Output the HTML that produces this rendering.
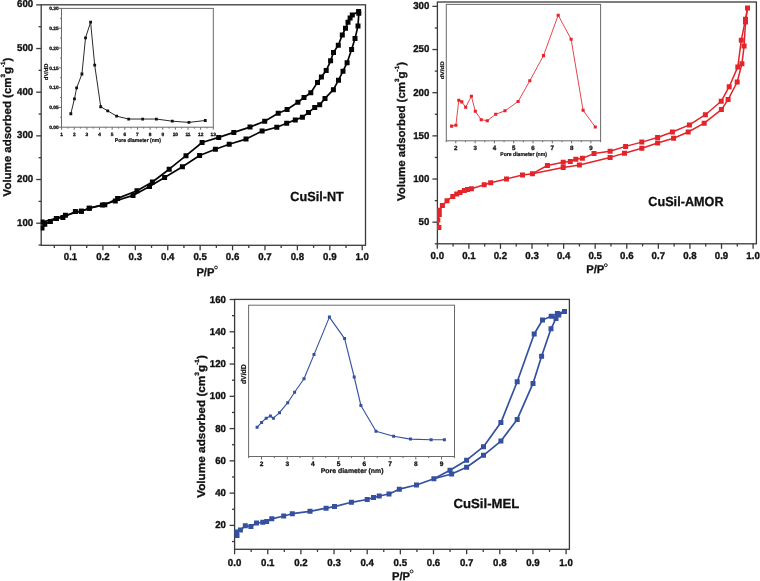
<!DOCTYPE html>
<html><head><meta charset="utf-8"><style>
html,body{margin:0;padding:0;background:#fff;}
svg{display:block;font-family:"Liberation Sans",sans-serif;text-rendering:geometricPrecision;will-change:transform;}
</style></head><body>
<svg width="760" height="581" viewBox="0 0 760 581">
<rect width="760" height="581" fill="#fff"/>
<rect x="41.2" y="4.8" width="324.3" height="240.5" fill="none" stroke="#3a3a3a" stroke-width="1.3"/>
<line x1="70.51" y1="245.3" x2="70.51" y2="250.3" stroke="#3a3a3a" stroke-width="1.3"/>
<line x1="102.92" y1="245.3" x2="102.92" y2="250.3" stroke="#3a3a3a" stroke-width="1.3"/>
<line x1="135.33" y1="245.3" x2="135.33" y2="250.3" stroke="#3a3a3a" stroke-width="1.3"/>
<line x1="167.74" y1="245.3" x2="167.74" y2="250.3" stroke="#3a3a3a" stroke-width="1.3"/>
<line x1="200.15" y1="245.3" x2="200.15" y2="250.3" stroke="#3a3a3a" stroke-width="1.3"/>
<line x1="232.56" y1="245.3" x2="232.56" y2="250.3" stroke="#3a3a3a" stroke-width="1.3"/>
<line x1="264.97" y1="245.3" x2="264.97" y2="250.3" stroke="#3a3a3a" stroke-width="1.3"/>
<line x1="297.38" y1="245.3" x2="297.38" y2="250.3" stroke="#3a3a3a" stroke-width="1.3"/>
<line x1="329.79" y1="245.3" x2="329.79" y2="250.3" stroke="#3a3a3a" stroke-width="1.3"/>
<line x1="362.2" y1="245.3" x2="362.2" y2="250.3" stroke="#3a3a3a" stroke-width="1.3"/>
<line x1="54.31" y1="245.3" x2="54.31" y2="247.9" stroke="#3a3a3a" stroke-width="1.3"/>
<line x1="86.72" y1="245.3" x2="86.72" y2="247.9" stroke="#3a3a3a" stroke-width="1.3"/>
<line x1="119.12" y1="245.3" x2="119.12" y2="247.9" stroke="#3a3a3a" stroke-width="1.3"/>
<line x1="151.53" y1="245.3" x2="151.53" y2="247.9" stroke="#3a3a3a" stroke-width="1.3"/>
<line x1="183.95" y1="245.3" x2="183.95" y2="247.9" stroke="#3a3a3a" stroke-width="1.3"/>
<line x1="216.36" y1="245.3" x2="216.36" y2="247.9" stroke="#3a3a3a" stroke-width="1.3"/>
<line x1="248.77" y1="245.3" x2="248.77" y2="247.9" stroke="#3a3a3a" stroke-width="1.3"/>
<line x1="281.18" y1="245.3" x2="281.18" y2="247.9" stroke="#3a3a3a" stroke-width="1.3"/>
<line x1="313.59" y1="245.3" x2="313.59" y2="247.9" stroke="#3a3a3a" stroke-width="1.3"/>
<line x1="346" y1="245.3" x2="346" y2="247.9" stroke="#3a3a3a" stroke-width="1.3"/>
<text transform="translate(70.51 260.1) scale(0.0970 0.1000)" font-size="100" text-anchor="middle" font-weight="bold" fill="#111" stroke="#111" stroke-width="3.5">0.1</text>
<text transform="translate(102.92 260.1) scale(0.0970 0.1000)" font-size="100" text-anchor="middle" font-weight="bold" fill="#111" stroke="#111" stroke-width="3.5">0.2</text>
<text transform="translate(135.33 260.1) scale(0.0970 0.1000)" font-size="100" text-anchor="middle" font-weight="bold" fill="#111" stroke="#111" stroke-width="3.5">0.3</text>
<text transform="translate(167.74 260.1) scale(0.0970 0.1000)" font-size="100" text-anchor="middle" font-weight="bold" fill="#111" stroke="#111" stroke-width="3.5">0.4</text>
<text transform="translate(200.15 260.1) scale(0.0970 0.1000)" font-size="100" text-anchor="middle" font-weight="bold" fill="#111" stroke="#111" stroke-width="3.5">0.5</text>
<text transform="translate(232.56 260.1) scale(0.0970 0.1000)" font-size="100" text-anchor="middle" font-weight="bold" fill="#111" stroke="#111" stroke-width="3.5">0.6</text>
<text transform="translate(264.97 260.1) scale(0.0970 0.1000)" font-size="100" text-anchor="middle" font-weight="bold" fill="#111" stroke="#111" stroke-width="3.5">0.7</text>
<text transform="translate(297.38 260.1) scale(0.0970 0.1000)" font-size="100" text-anchor="middle" font-weight="bold" fill="#111" stroke="#111" stroke-width="3.5">0.8</text>
<text transform="translate(329.79 260.1) scale(0.0970 0.1000)" font-size="100" text-anchor="middle" font-weight="bold" fill="#111" stroke="#111" stroke-width="3.5">0.9</text>
<text transform="translate(362.2 260.1) scale(0.0970 0.1000)" font-size="100" text-anchor="middle" font-weight="bold" fill="#111" stroke="#111" stroke-width="3.5">1.0</text>
<line x1="36.2" y1="223.2" x2="41.2" y2="223.2" stroke="#3a3a3a" stroke-width="1.3"/>
<line x1="36.2" y1="179.53" x2="41.2" y2="179.53" stroke="#3a3a3a" stroke-width="1.3"/>
<line x1="36.2" y1="135.86" x2="41.2" y2="135.86" stroke="#3a3a3a" stroke-width="1.3"/>
<line x1="36.2" y1="92.19" x2="41.2" y2="92.19" stroke="#3a3a3a" stroke-width="1.3"/>
<line x1="36.2" y1="48.52" x2="41.2" y2="48.52" stroke="#3a3a3a" stroke-width="1.3"/>
<line x1="36.2" y1="4.85" x2="41.2" y2="4.85" stroke="#3a3a3a" stroke-width="1.3"/>
<line x1="38.6" y1="245.03" x2="41.2" y2="245.03" stroke="#3a3a3a" stroke-width="1.3"/>
<line x1="38.6" y1="201.36" x2="41.2" y2="201.36" stroke="#3a3a3a" stroke-width="1.3"/>
<line x1="38.6" y1="157.69" x2="41.2" y2="157.69" stroke="#3a3a3a" stroke-width="1.3"/>
<line x1="38.6" y1="114.02" x2="41.2" y2="114.02" stroke="#3a3a3a" stroke-width="1.3"/>
<line x1="38.6" y1="70.35" x2="41.2" y2="70.35" stroke="#3a3a3a" stroke-width="1.3"/>
<line x1="38.6" y1="26.69" x2="41.2" y2="26.69" stroke="#3a3a3a" stroke-width="1.3"/>
<text transform="translate(33.2 225.7) scale(0.0970 0.1000)" font-size="100" text-anchor="end" font-weight="bold" fill="#111" stroke="#111" stroke-width="3.5">100</text>
<text transform="translate(33.2 182.03) scale(0.0970 0.1000)" font-size="100" text-anchor="end" font-weight="bold" fill="#111" stroke="#111" stroke-width="3.5">200</text>
<text transform="translate(33.2 138.36) scale(0.0970 0.1000)" font-size="100" text-anchor="end" font-weight="bold" fill="#111" stroke="#111" stroke-width="3.5">300</text>
<text transform="translate(33.2 94.69) scale(0.0970 0.1000)" font-size="100" text-anchor="end" font-weight="bold" fill="#111" stroke="#111" stroke-width="3.5">400</text>
<text transform="translate(33.2 51.02) scale(0.0970 0.1000)" font-size="100" text-anchor="end" font-weight="bold" fill="#111" stroke="#111" stroke-width="3.5">500</text>
<text transform="translate(33.2 7.35) scale(0.0970 0.1000)" font-size="100" text-anchor="end" font-weight="bold" fill="#111" stroke="#111" stroke-width="3.5">600</text>
<clipPath id="c1"><rect x="40.7" y="3" width="326" height="242"/></clipPath><g clip-path="url(#c1)">
<polyline points="42,227.9 44.8,224.2 50.4,221.4 56.4,218.4 62.9,217.4 75.4,211.6 81.4,211.3 89.3,208.2 102.4,205 115.3,201 133,195.4 149.5,186.6 164.6,177.4 182.4,166.8 199.6,155.5 215.4,149.2 229.2,144.3 246,139.1 262.1,131.1 276.8,127.2 286.7,123.3 295.3,119.9 302.4,117.3 308.5,112.4 314.7,107.6 319.7,104.8 325,98.4 333.4,89.7 338.5,80.2 343,71.2 347.1,62.7 351.6,49.4 355,38.6 358,25.9 358.8,13.3" fill="none" stroke="#050505" stroke-width="1.7" stroke-linejoin="round"/>
<polyline points="42.2,222.1 56.4,218.4 65.4,215.3 81.4,211.3 89.3,208.2 104.8,204.7 117.6,198.4 137,190.8 152.4,182 169.2,169.2 186,155.7 202.1,142.5 218.7,137.4 233.8,132.4 250,127.1 264.7,121.2 278.2,113.3 287.1,109.5 297.9,102.3 304,97.5 310.8,92.7 317.5,82.4 321.4,77 326.2,70.6 330.6,60.8 333.5,52.4 338.3,45.2 342.3,34.9 345.5,28.3 348,22.3 350.1,18 352.3,15 358.6,11.4" fill="none" stroke="#050505" stroke-width="1.7" stroke-linejoin="round"/>
<path d="M39.5 225.4h5v5h-5zM42.3 221.7h5v5h-5zM47.9 218.9h5v5h-5zM53.9 215.9h5v5h-5zM60.4 214.9h5v5h-5zM72.9 209.1h5v5h-5zM78.9 208.8h5v5h-5zM86.8 205.7h5v5h-5zM99.9 202.5h5v5h-5zM112.8 198.5h5v5h-5zM130.5 192.9h5v5h-5zM147 184.1h5v5h-5zM162.1 174.9h5v5h-5zM179.9 164.3h5v5h-5zM197.1 153h5v5h-5zM212.9 146.7h5v5h-5zM226.7 141.8h5v5h-5zM243.5 136.6h5v5h-5zM259.6 128.6h5v5h-5zM274.3 124.7h5v5h-5zM284.2 120.8h5v5h-5zM292.8 117.4h5v5h-5zM299.9 114.8h5v5h-5zM306 109.9h5v5h-5zM312.2 105.1h5v5h-5zM317.2 102.3h5v5h-5zM322.5 95.9h5v5h-5zM330.9 87.2h5v5h-5zM336 77.7h5v5h-5zM340.5 68.7h5v5h-5zM344.6 60.2h5v5h-5zM349.1 46.9h5v5h-5zM352.5 36.1h5v5h-5zM355.5 23.4h5v5h-5zM356.3 10.8h5v5h-5z" fill="#050505"/>
<path d="M39.7 219.6h5v5h-5zM53.9 215.9h5v5h-5zM62.9 212.8h5v5h-5zM78.9 208.8h5v5h-5zM86.8 205.7h5v5h-5zM102.3 202.2h5v5h-5zM115.1 195.9h5v5h-5zM134.5 188.3h5v5h-5zM149.9 179.5h5v5h-5zM166.7 166.7h5v5h-5zM183.5 153.2h5v5h-5zM199.6 140h5v5h-5zM216.2 134.9h5v5h-5zM231.3 129.9h5v5h-5zM247.5 124.6h5v5h-5zM262.2 118.7h5v5h-5zM275.7 110.8h5v5h-5zM284.6 107h5v5h-5zM295.4 99.8h5v5h-5zM301.5 95h5v5h-5zM308.3 90.2h5v5h-5zM315 79.9h5v5h-5zM318.9 74.5h5v5h-5zM323.7 68.1h5v5h-5zM328.1 58.3h5v5h-5zM331 49.9h5v5h-5zM335.8 42.7h5v5h-5zM339.8 32.4h5v5h-5zM343 25.8h5v5h-5zM345.5 19.8h5v5h-5zM347.6 15.5h5v5h-5zM349.8 12.5h5v5h-5zM356.1 8.9h5v5h-5z" fill="#050505"/>
</g>
<text transform="translate(290.3 200.8) scale(0.0960 0.1000)" font-size="132" text-anchor="start" font-weight="bold" fill="#111" stroke="#111" stroke-width="3">CuSil-NT</text>
<text transform="translate(11.1 127) rotate(-90)" font-size="11.2" font-weight="bold" fill="#111" stroke="#111" stroke-width="0.3" text-anchor="middle" textLength="138.8" lengthAdjust="spacingAndGlyphs">Volume adsorbed (cm<tspan dy="-5.8" font-size="6.16">3</tspan><tspan dy="5.8">g</tspan><tspan dy="-5.8" font-size="6.16">-1</tspan><tspan dy="5.8">)</tspan></text>
<text x="196.4" y="275.6" font-size="11.2" font-weight="bold" fill="#111" stroke="#111" stroke-width="0.3">P/P</text>
<circle cx="216" cy="267.5" r="1.45" fill="none" stroke="#111" stroke-width="0.95"/>
<rect x="61.5" y="8.4" width="151.8" height="118.8" fill="#fff" stroke="#6a6a6a" stroke-width="1"/>
<line x1="61.6" y1="127.2" x2="61.6" y2="129.7" stroke="#6a6a6a" stroke-width="1"/>
<line x1="74.24" y1="127.2" x2="74.24" y2="129.7" stroke="#6a6a6a" stroke-width="1"/>
<line x1="86.88" y1="127.2" x2="86.88" y2="129.7" stroke="#6a6a6a" stroke-width="1"/>
<line x1="99.52" y1="127.2" x2="99.52" y2="129.7" stroke="#6a6a6a" stroke-width="1"/>
<line x1="112.16" y1="127.2" x2="112.16" y2="129.7" stroke="#6a6a6a" stroke-width="1"/>
<line x1="124.8" y1="127.2" x2="124.8" y2="129.7" stroke="#6a6a6a" stroke-width="1"/>
<line x1="137.44" y1="127.2" x2="137.44" y2="129.7" stroke="#6a6a6a" stroke-width="1"/>
<line x1="150.08" y1="127.2" x2="150.08" y2="129.7" stroke="#6a6a6a" stroke-width="1"/>
<line x1="162.72" y1="127.2" x2="162.72" y2="129.7" stroke="#6a6a6a" stroke-width="1"/>
<line x1="175.36" y1="127.2" x2="175.36" y2="129.7" stroke="#6a6a6a" stroke-width="1"/>
<line x1="188" y1="127.2" x2="188" y2="129.7" stroke="#6a6a6a" stroke-width="1"/>
<line x1="200.64" y1="127.2" x2="200.64" y2="129.7" stroke="#6a6a6a" stroke-width="1"/>
<line x1="213.28" y1="127.2" x2="213.28" y2="129.7" stroke="#6a6a6a" stroke-width="1"/>
<line x1="67.92" y1="127.2" x2="67.92" y2="128.6" stroke="#6a6a6a" stroke-width="1"/>
<line x1="80.56" y1="127.2" x2="80.56" y2="128.6" stroke="#6a6a6a" stroke-width="1"/>
<line x1="93.2" y1="127.2" x2="93.2" y2="128.6" stroke="#6a6a6a" stroke-width="1"/>
<line x1="105.84" y1="127.2" x2="105.84" y2="128.6" stroke="#6a6a6a" stroke-width="1"/>
<line x1="118.48" y1="127.2" x2="118.48" y2="128.6" stroke="#6a6a6a" stroke-width="1"/>
<line x1="131.12" y1="127.2" x2="131.12" y2="128.6" stroke="#6a6a6a" stroke-width="1"/>
<line x1="143.76" y1="127.2" x2="143.76" y2="128.6" stroke="#6a6a6a" stroke-width="1"/>
<line x1="156.4" y1="127.2" x2="156.4" y2="128.6" stroke="#6a6a6a" stroke-width="1"/>
<line x1="169.04" y1="127.2" x2="169.04" y2="128.6" stroke="#6a6a6a" stroke-width="1"/>
<line x1="181.68" y1="127.2" x2="181.68" y2="128.6" stroke="#6a6a6a" stroke-width="1"/>
<line x1="194.32" y1="127.2" x2="194.32" y2="128.6" stroke="#6a6a6a" stroke-width="1"/>
<line x1="206.96" y1="127.2" x2="206.96" y2="128.6" stroke="#6a6a6a" stroke-width="1"/>
<text transform="translate(61.6 135.6) scale(0.1000 0.1000)" font-size="48" text-anchor="middle" font-weight="bold" fill="#111" stroke="#111" stroke-width="3">1</text>
<text transform="translate(74.24 135.6) scale(0.1000 0.1000)" font-size="48" text-anchor="middle" font-weight="bold" fill="#111" stroke="#111" stroke-width="3">2</text>
<text transform="translate(86.88 135.6) scale(0.1000 0.1000)" font-size="48" text-anchor="middle" font-weight="bold" fill="#111" stroke="#111" stroke-width="3">3</text>
<text transform="translate(99.52 135.6) scale(0.1000 0.1000)" font-size="48" text-anchor="middle" font-weight="bold" fill="#111" stroke="#111" stroke-width="3">4</text>
<text transform="translate(112.16 135.6) scale(0.1000 0.1000)" font-size="48" text-anchor="middle" font-weight="bold" fill="#111" stroke="#111" stroke-width="3">5</text>
<text transform="translate(124.8 135.6) scale(0.1000 0.1000)" font-size="48" text-anchor="middle" font-weight="bold" fill="#111" stroke="#111" stroke-width="3">6</text>
<text transform="translate(137.44 135.6) scale(0.1000 0.1000)" font-size="48" text-anchor="middle" font-weight="bold" fill="#111" stroke="#111" stroke-width="3">7</text>
<text transform="translate(150.08 135.6) scale(0.1000 0.1000)" font-size="48" text-anchor="middle" font-weight="bold" fill="#111" stroke="#111" stroke-width="3">8</text>
<text transform="translate(162.72 135.6) scale(0.1000 0.1000)" font-size="48" text-anchor="middle" font-weight="bold" fill="#111" stroke="#111" stroke-width="3">9</text>
<text transform="translate(175.36 135.6) scale(0.1000 0.1000)" font-size="48" text-anchor="middle" font-weight="bold" fill="#111" stroke="#111" stroke-width="3">10</text>
<text transform="translate(188 135.6) scale(0.1000 0.1000)" font-size="48" text-anchor="middle" font-weight="bold" fill="#111" stroke="#111" stroke-width="3">11</text>
<text transform="translate(200.64 135.6) scale(0.1000 0.1000)" font-size="48" text-anchor="middle" font-weight="bold" fill="#111" stroke="#111" stroke-width="3">12</text>
<text transform="translate(213.28 135.6) scale(0.1000 0.1000)" font-size="48" text-anchor="middle" font-weight="bold" fill="#111" stroke="#111" stroke-width="3">13</text>
<line x1="59" y1="127.2" x2="61.5" y2="127.2" stroke="#6a6a6a" stroke-width="1"/>
<line x1="59" y1="107.4" x2="61.5" y2="107.4" stroke="#6a6a6a" stroke-width="1"/>
<line x1="59" y1="87.6" x2="61.5" y2="87.6" stroke="#6a6a6a" stroke-width="1"/>
<line x1="59" y1="67.8" x2="61.5" y2="67.8" stroke="#6a6a6a" stroke-width="1"/>
<line x1="59" y1="48" x2="61.5" y2="48" stroke="#6a6a6a" stroke-width="1"/>
<line x1="59" y1="28.2" x2="61.5" y2="28.2" stroke="#6a6a6a" stroke-width="1"/>
<line x1="59" y1="8.4" x2="61.5" y2="8.4" stroke="#6a6a6a" stroke-width="1"/>
<line x1="60.1" y1="117.3" x2="61.5" y2="117.3" stroke="#6a6a6a" stroke-width="1"/>
<line x1="60.1" y1="97.5" x2="61.5" y2="97.5" stroke="#6a6a6a" stroke-width="1"/>
<line x1="60.1" y1="77.7" x2="61.5" y2="77.7" stroke="#6a6a6a" stroke-width="1"/>
<line x1="60.1" y1="57.9" x2="61.5" y2="57.9" stroke="#6a6a6a" stroke-width="1"/>
<line x1="60.1" y1="38.1" x2="61.5" y2="38.1" stroke="#6a6a6a" stroke-width="1"/>
<line x1="60.1" y1="18.3" x2="61.5" y2="18.3" stroke="#6a6a6a" stroke-width="1"/>
<text transform="translate(58.6 128.93) scale(0.1000 0.1000)" font-size="48" text-anchor="end" font-weight="bold" fill="#111" stroke="#111" stroke-width="3">0.00</text>
<text transform="translate(58.6 109.13) scale(0.1000 0.1000)" font-size="48" text-anchor="end" font-weight="bold" fill="#111" stroke="#111" stroke-width="3">0.05</text>
<text transform="translate(58.6 89.33) scale(0.1000 0.1000)" font-size="48" text-anchor="end" font-weight="bold" fill="#111" stroke="#111" stroke-width="3">0.10</text>
<text transform="translate(58.6 69.53) scale(0.1000 0.1000)" font-size="48" text-anchor="end" font-weight="bold" fill="#111" stroke="#111" stroke-width="3">0.15</text>
<text transform="translate(58.6 49.73) scale(0.1000 0.1000)" font-size="48" text-anchor="end" font-weight="bold" fill="#111" stroke="#111" stroke-width="3">0.20</text>
<text transform="translate(58.6 29.93) scale(0.1000 0.1000)" font-size="48" text-anchor="end" font-weight="bold" fill="#111" stroke="#111" stroke-width="3">0.25</text>
<text transform="translate(58.6 10.13) scale(0.1000 0.1000)" font-size="48" text-anchor="end" font-weight="bold" fill="#111" stroke="#111" stroke-width="3">0.30</text>
<polyline points="70.84,113.73 74.46,98.8 76.63,87.95 81.93,73.98 85.54,37.83 90.6,22.17 94.7,65.06 100.72,106.75 107.71,110.84 116.63,116.14 128.67,119.04 142.65,119.04 156.39,119.04 172.29,121.2 188.92,122.41 205.3,120.48" fill="none" stroke="#111" stroke-width="0.9" stroke-linejoin="round"/>
<path d="M69.44 112.33h2.8v2.8h-2.8zM73.06 97.4h2.8v2.8h-2.8zM75.23 86.55h2.8v2.8h-2.8zM80.53 72.58h2.8v2.8h-2.8zM84.14 36.43h2.8v2.8h-2.8zM89.2 20.77h2.8v2.8h-2.8zM93.3 63.66h2.8v2.8h-2.8zM99.32 105.35h2.8v2.8h-2.8zM106.31 109.44h2.8v2.8h-2.8zM115.23 114.74h2.8v2.8h-2.8zM127.27 117.64h2.8v2.8h-2.8zM141.25 117.64h2.8v2.8h-2.8zM154.99 117.64h2.8v2.8h-2.8zM170.89 119.8h2.8v2.8h-2.8zM187.52 121.01h2.8v2.8h-2.8zM203.9 119.08h2.8v2.8h-2.8z" fill="#111"/>
<text transform="translate(48 71.8) rotate(-90) scale(0.1)" font-size="56" font-weight="bold" fill="#111" stroke="#111" stroke-width="2" text-anchor="middle" textLength="167" lengthAdjust="spacingAndGlyphs">dV/dD</text>
<text transform="translate(137.9 141.8) scale(0.1)" font-size="54" font-weight="bold" fill="#111" stroke="#111" stroke-width="2.2" text-anchor="middle" textLength="463" lengthAdjust="spacingAndGlyphs">Pore diameter (nm)</text>
<rect x="437.4" y="2" width="319" height="241.8" fill="none" stroke="#3a3a3a" stroke-width="1.3"/>
<line x1="437.3" y1="243.8" x2="437.3" y2="248.8" stroke="#3a3a3a" stroke-width="1.3"/>
<line x1="468.88" y1="243.8" x2="468.88" y2="248.8" stroke="#3a3a3a" stroke-width="1.3"/>
<line x1="500.46" y1="243.8" x2="500.46" y2="248.8" stroke="#3a3a3a" stroke-width="1.3"/>
<line x1="532.04" y1="243.8" x2="532.04" y2="248.8" stroke="#3a3a3a" stroke-width="1.3"/>
<line x1="563.62" y1="243.8" x2="563.62" y2="248.8" stroke="#3a3a3a" stroke-width="1.3"/>
<line x1="595.2" y1="243.8" x2="595.2" y2="248.8" stroke="#3a3a3a" stroke-width="1.3"/>
<line x1="626.78" y1="243.8" x2="626.78" y2="248.8" stroke="#3a3a3a" stroke-width="1.3"/>
<line x1="658.36" y1="243.8" x2="658.36" y2="248.8" stroke="#3a3a3a" stroke-width="1.3"/>
<line x1="689.94" y1="243.8" x2="689.94" y2="248.8" stroke="#3a3a3a" stroke-width="1.3"/>
<line x1="721.52" y1="243.8" x2="721.52" y2="248.8" stroke="#3a3a3a" stroke-width="1.3"/>
<line x1="753.1" y1="243.8" x2="753.1" y2="248.8" stroke="#3a3a3a" stroke-width="1.3"/>
<line x1="453.09" y1="243.8" x2="453.09" y2="246.4" stroke="#3a3a3a" stroke-width="1.3"/>
<line x1="484.67" y1="243.8" x2="484.67" y2="246.4" stroke="#3a3a3a" stroke-width="1.3"/>
<line x1="516.25" y1="243.8" x2="516.25" y2="246.4" stroke="#3a3a3a" stroke-width="1.3"/>
<line x1="547.83" y1="243.8" x2="547.83" y2="246.4" stroke="#3a3a3a" stroke-width="1.3"/>
<line x1="579.41" y1="243.8" x2="579.41" y2="246.4" stroke="#3a3a3a" stroke-width="1.3"/>
<line x1="610.99" y1="243.8" x2="610.99" y2="246.4" stroke="#3a3a3a" stroke-width="1.3"/>
<line x1="642.57" y1="243.8" x2="642.57" y2="246.4" stroke="#3a3a3a" stroke-width="1.3"/>
<line x1="674.15" y1="243.8" x2="674.15" y2="246.4" stroke="#3a3a3a" stroke-width="1.3"/>
<line x1="705.73" y1="243.8" x2="705.73" y2="246.4" stroke="#3a3a3a" stroke-width="1.3"/>
<line x1="737.31" y1="243.8" x2="737.31" y2="246.4" stroke="#3a3a3a" stroke-width="1.3"/>
<text transform="translate(437.3 258.9) scale(0.0970 0.1000)" font-size="100" text-anchor="middle" font-weight="bold" fill="#111" stroke="#111" stroke-width="3.5">0.0</text>
<text transform="translate(468.88 258.9) scale(0.0970 0.1000)" font-size="100" text-anchor="middle" font-weight="bold" fill="#111" stroke="#111" stroke-width="3.5">0.1</text>
<text transform="translate(500.46 258.9) scale(0.0970 0.1000)" font-size="100" text-anchor="middle" font-weight="bold" fill="#111" stroke="#111" stroke-width="3.5">0.2</text>
<text transform="translate(532.04 258.9) scale(0.0970 0.1000)" font-size="100" text-anchor="middle" font-weight="bold" fill="#111" stroke="#111" stroke-width="3.5">0.3</text>
<text transform="translate(563.62 258.9) scale(0.0970 0.1000)" font-size="100" text-anchor="middle" font-weight="bold" fill="#111" stroke="#111" stroke-width="3.5">0.4</text>
<text transform="translate(595.2 258.9) scale(0.0970 0.1000)" font-size="100" text-anchor="middle" font-weight="bold" fill="#111" stroke="#111" stroke-width="3.5">0.5</text>
<text transform="translate(626.78 258.9) scale(0.0970 0.1000)" font-size="100" text-anchor="middle" font-weight="bold" fill="#111" stroke="#111" stroke-width="3.5">0.6</text>
<text transform="translate(658.36 258.9) scale(0.0970 0.1000)" font-size="100" text-anchor="middle" font-weight="bold" fill="#111" stroke="#111" stroke-width="3.5">0.7</text>
<text transform="translate(689.94 258.9) scale(0.0970 0.1000)" font-size="100" text-anchor="middle" font-weight="bold" fill="#111" stroke="#111" stroke-width="3.5">0.8</text>
<text transform="translate(721.52 258.9) scale(0.0970 0.1000)" font-size="100" text-anchor="middle" font-weight="bold" fill="#111" stroke="#111" stroke-width="3.5">0.9</text>
<text transform="translate(753.1 258.9) scale(0.0970 0.1000)" font-size="100" text-anchor="middle" font-weight="bold" fill="#111" stroke="#111" stroke-width="3.5">1.0</text>
<line x1="432.4" y1="222.2" x2="437.4" y2="222.2" stroke="#3a3a3a" stroke-width="1.3"/>
<line x1="432.4" y1="179.03" x2="437.4" y2="179.03" stroke="#3a3a3a" stroke-width="1.3"/>
<line x1="432.4" y1="135.87" x2="437.4" y2="135.87" stroke="#3a3a3a" stroke-width="1.3"/>
<line x1="432.4" y1="92.7" x2="437.4" y2="92.7" stroke="#3a3a3a" stroke-width="1.3"/>
<line x1="432.4" y1="49.54" x2="437.4" y2="49.54" stroke="#3a3a3a" stroke-width="1.3"/>
<line x1="432.4" y1="6.38" x2="437.4" y2="6.38" stroke="#3a3a3a" stroke-width="1.3"/>
<line x1="434.8" y1="243.78" x2="437.4" y2="243.78" stroke="#3a3a3a" stroke-width="1.3"/>
<line x1="434.8" y1="200.62" x2="437.4" y2="200.62" stroke="#3a3a3a" stroke-width="1.3"/>
<line x1="434.8" y1="157.45" x2="437.4" y2="157.45" stroke="#3a3a3a" stroke-width="1.3"/>
<line x1="434.8" y1="114.29" x2="437.4" y2="114.29" stroke="#3a3a3a" stroke-width="1.3"/>
<line x1="434.8" y1="71.12" x2="437.4" y2="71.12" stroke="#3a3a3a" stroke-width="1.3"/>
<line x1="434.8" y1="27.96" x2="437.4" y2="27.96" stroke="#3a3a3a" stroke-width="1.3"/>
<text transform="translate(429.4 225) scale(0.0970 0.1000)" font-size="100" text-anchor="end" font-weight="bold" fill="#111" stroke="#111" stroke-width="3.5">50</text>
<text transform="translate(429.4 181.84) scale(0.0970 0.1000)" font-size="100" text-anchor="end" font-weight="bold" fill="#111" stroke="#111" stroke-width="3.5">100</text>
<text transform="translate(429.4 138.67) scale(0.0970 0.1000)" font-size="100" text-anchor="end" font-weight="bold" fill="#111" stroke="#111" stroke-width="3.5">150</text>
<text transform="translate(429.4 95.5) scale(0.0970 0.1000)" font-size="100" text-anchor="end" font-weight="bold" fill="#111" stroke="#111" stroke-width="3.5">200</text>
<text transform="translate(429.4 52.34) scale(0.0970 0.1000)" font-size="100" text-anchor="end" font-weight="bold" fill="#111" stroke="#111" stroke-width="3.5">250</text>
<text transform="translate(429.4 9.18) scale(0.0970 0.1000)" font-size="100" text-anchor="end" font-weight="bold" fill="#111" stroke="#111" stroke-width="3.5">300</text>
<clipPath id="c2"><rect x="437.0" y="1" width="320" height="242"/></clipPath><g clip-path="url(#c2)">
<polyline points="438.9,227.6 437.8,220 439.3,214.6 439.3,210.2 442.4,205.5 447,200.7 452.8,196.4 456.7,194.1 460.1,192.6 464.4,190.6 467.5,189.5 471.4,188.7 484.2,184.8 490.7,182.8 506.5,178.9 522.5,175.1 532.4,173.7" fill="none" stroke="#e3242b" stroke-width="1.5" stroke-linejoin="round"/>
<polyline points="532.4,173.7 547.4,165.5 563.2,162.2 570.3,161.4 575.8,159.2 582.4,158.2 594,153.6 610.1,151.3 625.6,146.4 641.8,142.1 657.6,137.5 672.4,132 689.4,124.9 705.4,114.7 721.2,101.3 729.2,86.7 737.8,66.9 741.3,40.2 745.5,19.3 747.5,8" fill="none" stroke="#e3242b" stroke-width="1.5" stroke-linejoin="round"/>
<polyline points="532.4,173.7 563.2,167.4 579.4,165 610.1,157.4 624.5,153.2 641.8,148.3 657.6,143 673.6,138.3 688.2,132 704.2,123.2 721.4,109.6 728.1,99.6 737.2,82 741.9,63.8 744.1,46.1 745.5,22 747.5,8" fill="none" stroke="#e3242b" stroke-width="1.5" stroke-linejoin="round"/>
<path d="M436.4 225.1h5v5h-5zM435.3 217.5h5v5h-5zM436.8 212.1h5v5h-5zM436.8 207.7h5v5h-5zM439.9 203h5v5h-5zM444.5 198.2h5v5h-5zM450.3 193.9h5v5h-5zM454.2 191.6h5v5h-5zM457.6 190.1h5v5h-5zM461.9 188.1h5v5h-5zM465 187h5v5h-5zM468.9 186.2h5v5h-5zM481.7 182.3h5v5h-5zM488.2 180.3h5v5h-5zM504 176.4h5v5h-5zM520 172.6h5v5h-5zM529.9 171.2h5v5h-5zM529.9 171.2h5v5h-5zM544.9 163h5v5h-5zM560.7 159.7h5v5h-5zM567.8 158.9h5v5h-5zM573.3 156.7h5v5h-5zM579.9 155.7h5v5h-5zM591.5 151.1h5v5h-5zM607.6 148.8h5v5h-5zM623.1 143.9h5v5h-5zM639.3 139.6h5v5h-5zM655.1 135h5v5h-5zM669.9 129.5h5v5h-5zM686.9 122.4h5v5h-5zM702.9 112.2h5v5h-5zM718.7 98.8h5v5h-5zM726.7 84.2h5v5h-5zM735.3 64.4h5v5h-5zM738.8 37.7h5v5h-5zM743 16.8h5v5h-5zM745 5.5h5v5h-5zM529.9 171.2h5v5h-5zM560.7 164.9h5v5h-5zM576.9 162.5h5v5h-5zM607.6 154.9h5v5h-5zM622 150.7h5v5h-5zM639.3 145.8h5v5h-5zM655.1 140.5h5v5h-5zM671.1 135.8h5v5h-5zM685.7 129.5h5v5h-5zM701.7 120.7h5v5h-5zM718.9 107.1h5v5h-5zM725.6 97.1h5v5h-5zM734.7 79.5h5v5h-5zM739.4 61.3h5v5h-5zM741.6 43.6h5v5h-5zM743 19.5h5v5h-5zM745 5.5h5v5h-5z" fill="#e3242b"/>
</g>
<text transform="translate(723.6 206.2) scale(0.0960 0.1000)" font-size="132" text-anchor="end" font-weight="bold" fill="#111" stroke="#111" stroke-width="3">CuSil-AMOR</text>
<text transform="translate(404.9 131.5) rotate(-90)" font-size="11.2" font-weight="bold" fill="#111" stroke="#111" stroke-width="0.3" text-anchor="middle" textLength="139" lengthAdjust="spacingAndGlyphs">Volume adsorbed (cm<tspan dy="-5.8" font-size="6.16">3</tspan><tspan dy="5.8">g</tspan><tspan dy="-5.8" font-size="6.16">-1</tspan><tspan dy="5.8">)</tspan></text>
<text x="586.2" y="273.3" font-size="11.2" font-weight="bold" fill="#111" stroke="#111" stroke-width="0.3">P/P</text>
<circle cx="605.8" cy="265.2" r="1.45" fill="none" stroke="#111" stroke-width="0.95"/>
<rect x="446.3" y="4.4" width="154.3" height="136.4" fill="#fff" stroke="#6a6a6a" stroke-width="1"/>
<line x1="455.8" y1="140.8" x2="455.8" y2="143.3" stroke="#6a6a6a" stroke-width="1"/>
<line x1="475.1" y1="140.8" x2="475.1" y2="143.3" stroke="#6a6a6a" stroke-width="1"/>
<line x1="494.4" y1="140.8" x2="494.4" y2="143.3" stroke="#6a6a6a" stroke-width="1"/>
<line x1="513.7" y1="140.8" x2="513.7" y2="143.3" stroke="#6a6a6a" stroke-width="1"/>
<line x1="533" y1="140.8" x2="533" y2="143.3" stroke="#6a6a6a" stroke-width="1"/>
<line x1="552.3" y1="140.8" x2="552.3" y2="143.3" stroke="#6a6a6a" stroke-width="1"/>
<line x1="571.6" y1="140.8" x2="571.6" y2="143.3" stroke="#6a6a6a" stroke-width="1"/>
<line x1="590.9" y1="140.8" x2="590.9" y2="143.3" stroke="#6a6a6a" stroke-width="1"/>
<line x1="446.15" y1="140.8" x2="446.15" y2="142.2" stroke="#6a6a6a" stroke-width="1"/>
<line x1="465.45" y1="140.8" x2="465.45" y2="142.2" stroke="#6a6a6a" stroke-width="1"/>
<line x1="484.75" y1="140.8" x2="484.75" y2="142.2" stroke="#6a6a6a" stroke-width="1"/>
<line x1="504.05" y1="140.8" x2="504.05" y2="142.2" stroke="#6a6a6a" stroke-width="1"/>
<line x1="523.35" y1="140.8" x2="523.35" y2="142.2" stroke="#6a6a6a" stroke-width="1"/>
<line x1="542.65" y1="140.8" x2="542.65" y2="142.2" stroke="#6a6a6a" stroke-width="1"/>
<line x1="561.95" y1="140.8" x2="561.95" y2="142.2" stroke="#6a6a6a" stroke-width="1"/>
<line x1="581.25" y1="140.8" x2="581.25" y2="142.2" stroke="#6a6a6a" stroke-width="1"/>
<line x1="600.55" y1="140.8" x2="600.55" y2="142.2" stroke="#6a6a6a" stroke-width="1"/>
<text transform="translate(455.8 150) scale(0.1000 0.1000)" font-size="62" text-anchor="middle" font-weight="bold" fill="#111" stroke="#111" stroke-width="3">2</text>
<text transform="translate(475.1 150) scale(0.1000 0.1000)" font-size="62" text-anchor="middle" font-weight="bold" fill="#111" stroke="#111" stroke-width="3">3</text>
<text transform="translate(494.4 150) scale(0.1000 0.1000)" font-size="62" text-anchor="middle" font-weight="bold" fill="#111" stroke="#111" stroke-width="3">4</text>
<text transform="translate(513.7 150) scale(0.1000 0.1000)" font-size="62" text-anchor="middle" font-weight="bold" fill="#111" stroke="#111" stroke-width="3">5</text>
<text transform="translate(533 150) scale(0.1000 0.1000)" font-size="62" text-anchor="middle" font-weight="bold" fill="#111" stroke="#111" stroke-width="3">6</text>
<text transform="translate(552.3 150) scale(0.1000 0.1000)" font-size="62" text-anchor="middle" font-weight="bold" fill="#111" stroke="#111" stroke-width="3">7</text>
<text transform="translate(571.6 150) scale(0.1000 0.1000)" font-size="62" text-anchor="middle" font-weight="bold" fill="#111" stroke="#111" stroke-width="3">8</text>
<text transform="translate(590.9 150) scale(0.1000 0.1000)" font-size="62" text-anchor="middle" font-weight="bold" fill="#111" stroke="#111" stroke-width="3">9</text>
<polyline points="451.6,126.1 455.9,125.2 458.8,100.3 461.8,101.9 465.7,107.2 471.4,96.2 475.3,111.3 481.2,119.7 487.3,120.7 495.7,114.3 505,110.8 518.1,101.5 529.8,80.8 543.5,55.6 558.2,15.2 571.1,39.2 583.1,110.3 595.3,127" fill="none" stroke="#e3242b" stroke-width="0.85" stroke-linejoin="round"/>
<path d="M450.05 124.55h3.1v3.1h-3.1zM454.35 123.65h3.1v3.1h-3.1zM457.25 98.75h3.1v3.1h-3.1zM460.25 100.35h3.1v3.1h-3.1zM464.15 105.65h3.1v3.1h-3.1zM469.85 94.65h3.1v3.1h-3.1zM473.75 109.75h3.1v3.1h-3.1zM479.65 118.15h3.1v3.1h-3.1zM485.75 119.15h3.1v3.1h-3.1zM494.15 112.75h3.1v3.1h-3.1zM503.45 109.25h3.1v3.1h-3.1zM516.55 99.95h3.1v3.1h-3.1zM528.25 79.25h3.1v3.1h-3.1zM541.95 54.05h3.1v3.1h-3.1zM556.65 13.65h3.1v3.1h-3.1zM569.55 37.65h3.1v3.1h-3.1zM581.55 108.75h3.1v3.1h-3.1zM593.75 125.45h3.1v3.1h-3.1z" fill="#e3242b"/>
<text transform="translate(444.3 70.2) rotate(-90) scale(0.1)" font-size="52" font-weight="bold" fill="#111" stroke="#111" stroke-width="2" text-anchor="middle" textLength="180" lengthAdjust="spacingAndGlyphs">dV/dD</text>
<text transform="translate(523.6 156.4) scale(0.1)" font-size="56" font-weight="bold" fill="#111" stroke="#111" stroke-width="2.2" text-anchor="middle" textLength="468" lengthAdjust="spacingAndGlyphs">Pore diameter (nm)</text>
<rect x="234.6" y="299.4" width="334.8" height="249.9" fill="none" stroke="#3a3a3a" stroke-width="1.3"/>
<line x1="234.6" y1="549.3" x2="234.6" y2="554.3" stroke="#3a3a3a" stroke-width="1.3"/>
<line x1="267.75" y1="549.3" x2="267.75" y2="554.3" stroke="#3a3a3a" stroke-width="1.3"/>
<line x1="300.9" y1="549.3" x2="300.9" y2="554.3" stroke="#3a3a3a" stroke-width="1.3"/>
<line x1="334.05" y1="549.3" x2="334.05" y2="554.3" stroke="#3a3a3a" stroke-width="1.3"/>
<line x1="367.2" y1="549.3" x2="367.2" y2="554.3" stroke="#3a3a3a" stroke-width="1.3"/>
<line x1="400.35" y1="549.3" x2="400.35" y2="554.3" stroke="#3a3a3a" stroke-width="1.3"/>
<line x1="433.5" y1="549.3" x2="433.5" y2="554.3" stroke="#3a3a3a" stroke-width="1.3"/>
<line x1="466.65" y1="549.3" x2="466.65" y2="554.3" stroke="#3a3a3a" stroke-width="1.3"/>
<line x1="499.8" y1="549.3" x2="499.8" y2="554.3" stroke="#3a3a3a" stroke-width="1.3"/>
<line x1="532.95" y1="549.3" x2="532.95" y2="554.3" stroke="#3a3a3a" stroke-width="1.3"/>
<line x1="566.1" y1="549.3" x2="566.1" y2="554.3" stroke="#3a3a3a" stroke-width="1.3"/>
<line x1="251.17" y1="549.3" x2="251.17" y2="551.9" stroke="#3a3a3a" stroke-width="1.3"/>
<line x1="284.32" y1="549.3" x2="284.32" y2="551.9" stroke="#3a3a3a" stroke-width="1.3"/>
<line x1="317.48" y1="549.3" x2="317.48" y2="551.9" stroke="#3a3a3a" stroke-width="1.3"/>
<line x1="350.62" y1="549.3" x2="350.62" y2="551.9" stroke="#3a3a3a" stroke-width="1.3"/>
<line x1="383.77" y1="549.3" x2="383.77" y2="551.9" stroke="#3a3a3a" stroke-width="1.3"/>
<line x1="416.93" y1="549.3" x2="416.93" y2="551.9" stroke="#3a3a3a" stroke-width="1.3"/>
<line x1="450.07" y1="549.3" x2="450.07" y2="551.9" stroke="#3a3a3a" stroke-width="1.3"/>
<line x1="483.23" y1="549.3" x2="483.23" y2="551.9" stroke="#3a3a3a" stroke-width="1.3"/>
<line x1="516.38" y1="549.3" x2="516.38" y2="551.9" stroke="#3a3a3a" stroke-width="1.3"/>
<line x1="549.52" y1="549.3" x2="549.52" y2="551.9" stroke="#3a3a3a" stroke-width="1.3"/>
<text transform="translate(234.6 566) scale(0.0970 0.1000)" font-size="100" text-anchor="middle" font-weight="bold" fill="#111" stroke="#111" stroke-width="3.5">0.0</text>
<text transform="translate(267.75 566) scale(0.0970 0.1000)" font-size="100" text-anchor="middle" font-weight="bold" fill="#111" stroke="#111" stroke-width="3.5">0.1</text>
<text transform="translate(300.9 566) scale(0.0970 0.1000)" font-size="100" text-anchor="middle" font-weight="bold" fill="#111" stroke="#111" stroke-width="3.5">0.2</text>
<text transform="translate(334.05 566) scale(0.0970 0.1000)" font-size="100" text-anchor="middle" font-weight="bold" fill="#111" stroke="#111" stroke-width="3.5">0.3</text>
<text transform="translate(367.2 566) scale(0.0970 0.1000)" font-size="100" text-anchor="middle" font-weight="bold" fill="#111" stroke="#111" stroke-width="3.5">0.4</text>
<text transform="translate(400.35 566) scale(0.0970 0.1000)" font-size="100" text-anchor="middle" font-weight="bold" fill="#111" stroke="#111" stroke-width="3.5">0.5</text>
<text transform="translate(433.5 566) scale(0.0970 0.1000)" font-size="100" text-anchor="middle" font-weight="bold" fill="#111" stroke="#111" stroke-width="3.5">0.6</text>
<text transform="translate(466.65 566) scale(0.0970 0.1000)" font-size="100" text-anchor="middle" font-weight="bold" fill="#111" stroke="#111" stroke-width="3.5">0.7</text>
<text transform="translate(499.8 566) scale(0.0970 0.1000)" font-size="100" text-anchor="middle" font-weight="bold" fill="#111" stroke="#111" stroke-width="3.5">0.8</text>
<text transform="translate(532.95 566) scale(0.0970 0.1000)" font-size="100" text-anchor="middle" font-weight="bold" fill="#111" stroke="#111" stroke-width="3.5">0.9</text>
<text transform="translate(566.1 566) scale(0.0970 0.1000)" font-size="100" text-anchor="middle" font-weight="bold" fill="#111" stroke="#111" stroke-width="3.5">1.0</text>
<line x1="229.6" y1="525.4" x2="234.6" y2="525.4" stroke="#3a3a3a" stroke-width="1.3"/>
<line x1="229.6" y1="493.13" x2="234.6" y2="493.13" stroke="#3a3a3a" stroke-width="1.3"/>
<line x1="229.6" y1="460.86" x2="234.6" y2="460.86" stroke="#3a3a3a" stroke-width="1.3"/>
<line x1="229.6" y1="428.59" x2="234.6" y2="428.59" stroke="#3a3a3a" stroke-width="1.3"/>
<line x1="229.6" y1="396.32" x2="234.6" y2="396.32" stroke="#3a3a3a" stroke-width="1.3"/>
<line x1="229.6" y1="364.05" x2="234.6" y2="364.05" stroke="#3a3a3a" stroke-width="1.3"/>
<line x1="229.6" y1="331.78" x2="234.6" y2="331.78" stroke="#3a3a3a" stroke-width="1.3"/>
<line x1="229.6" y1="299.51" x2="234.6" y2="299.51" stroke="#3a3a3a" stroke-width="1.3"/>
<line x1="232" y1="541.53" x2="234.6" y2="541.53" stroke="#3a3a3a" stroke-width="1.3"/>
<line x1="232" y1="509.26" x2="234.6" y2="509.26" stroke="#3a3a3a" stroke-width="1.3"/>
<line x1="232" y1="477" x2="234.6" y2="477" stroke="#3a3a3a" stroke-width="1.3"/>
<line x1="232" y1="444.72" x2="234.6" y2="444.72" stroke="#3a3a3a" stroke-width="1.3"/>
<line x1="232" y1="412.45" x2="234.6" y2="412.45" stroke="#3a3a3a" stroke-width="1.3"/>
<line x1="232" y1="380.18" x2="234.6" y2="380.18" stroke="#3a3a3a" stroke-width="1.3"/>
<line x1="232" y1="347.91" x2="234.6" y2="347.91" stroke="#3a3a3a" stroke-width="1.3"/>
<line x1="232" y1="315.64" x2="234.6" y2="315.64" stroke="#3a3a3a" stroke-width="1.3"/>
<text transform="translate(226 528.4) scale(0.0970 0.1000)" font-size="100" text-anchor="end" font-weight="bold" fill="#111" stroke="#111" stroke-width="3.5">20</text>
<text transform="translate(226 496.13) scale(0.0970 0.1000)" font-size="100" text-anchor="end" font-weight="bold" fill="#111" stroke="#111" stroke-width="3.5">40</text>
<text transform="translate(226 463.86) scale(0.0970 0.1000)" font-size="100" text-anchor="end" font-weight="bold" fill="#111" stroke="#111" stroke-width="3.5">60</text>
<text transform="translate(226 431.59) scale(0.0970 0.1000)" font-size="100" text-anchor="end" font-weight="bold" fill="#111" stroke="#111" stroke-width="3.5">80</text>
<text transform="translate(226 399.32) scale(0.0970 0.1000)" font-size="100" text-anchor="end" font-weight="bold" fill="#111" stroke="#111" stroke-width="3.5">100</text>
<text transform="translate(226 367.05) scale(0.0970 0.1000)" font-size="100" text-anchor="end" font-weight="bold" fill="#111" stroke="#111" stroke-width="3.5">120</text>
<text transform="translate(226 334.78) scale(0.0970 0.1000)" font-size="100" text-anchor="end" font-weight="bold" fill="#111" stroke="#111" stroke-width="3.5">140</text>
<text transform="translate(226 302.51) scale(0.0970 0.1000)" font-size="100" text-anchor="end" font-weight="bold" fill="#111" stroke="#111" stroke-width="3.5">160</text>
<clipPath id="c3"><rect x="234.2" y="298" width="336" height="251"/></clipPath><g clip-path="url(#c3)">
<polyline points="237,535.6 236.5,532.1 240.4,530 245.3,525.8 250.9,526.5 256.5,523 262.8,522.3 266.7,521.6 271.8,518.8 283.7,516 292.3,513.7 310,511.3 326.1,508.2 334.5,506.6 351.4,502.3 367.2,499.5 373.5,497.6 379.2,496 389,494 399.3,489.2 416.5,485 433.9,478.7" fill="none" stroke="#34509f" stroke-width="1.7" stroke-linejoin="round"/>
<polyline points="433.9,478.7 450,470.3 466.6,460.2 483.5,446.7 500.9,422.6 517.2,381.7 534.2,334 542.5,320 551.2,316.3 557.4,313.4 564.5,311.6" fill="none" stroke="#34509f" stroke-width="1.7" stroke-linejoin="round"/>
<polyline points="433.9,478.7 451.6,474 466.6,467.2 483.5,455.3 500.9,441.1 517.2,419.4 533,383.4 541.6,356.2 551,328.8 556,318.5 558.8,315 564.5,311.6" fill="none" stroke="#34509f" stroke-width="1.7" stroke-linejoin="round"/>
<path d="M234.5 533.1h5v5h-5zM234 529.6h5v5h-5zM237.9 527.5h5v5h-5zM242.8 523.3h5v5h-5zM248.4 524h5v5h-5zM254 520.5h5v5h-5zM260.3 519.8h5v5h-5zM264.2 519.1h5v5h-5zM269.3 516.3h5v5h-5zM281.2 513.5h5v5h-5zM289.8 511.2h5v5h-5zM307.5 508.8h5v5h-5zM323.6 505.7h5v5h-5zM332 504.1h5v5h-5zM348.9 499.8h5v5h-5zM364.7 497h5v5h-5zM371 495.1h5v5h-5zM376.7 493.5h5v5h-5zM386.5 491.5h5v5h-5zM396.8 486.7h5v5h-5zM414 482.5h5v5h-5zM431.4 476.2h5v5h-5zM431.4 476.2h5v5h-5zM447.5 467.8h5v5h-5zM464.1 457.7h5v5h-5zM481 444.2h5v5h-5zM498.4 420.1h5v5h-5zM514.7 379.2h5v5h-5zM531.7 331.5h5v5h-5zM540 317.5h5v5h-5zM548.7 313.8h5v5h-5zM554.9 310.9h5v5h-5zM562 309.1h5v5h-5zM431.4 476.2h5v5h-5zM449.1 471.5h5v5h-5zM464.1 464.7h5v5h-5zM481 452.8h5v5h-5zM498.4 438.6h5v5h-5zM514.7 416.9h5v5h-5zM530.5 380.9h5v5h-5zM539.1 353.7h5v5h-5zM548.5 326.3h5v5h-5zM553.5 316h5v5h-5zM556.3 312.5h5v5h-5zM562 309.1h5v5h-5z" fill="#34509f"/>
</g>
<text transform="translate(519.4 508.4) scale(0.1000 0.1000)" font-size="132" text-anchor="end" font-weight="bold" fill="#111" stroke="#111" stroke-width="3">CuSil-MEL</text>
<text transform="translate(204.8 426.5) rotate(-90)" font-size="11.2" font-weight="bold" fill="#111" stroke="#111" stroke-width="0.3" text-anchor="middle" textLength="142.7" lengthAdjust="spacingAndGlyphs">Volume adsorbed (cm<tspan dy="-5.8" font-size="6.16">3</tspan><tspan dy="5.8">g</tspan><tspan dy="-5.8" font-size="6.16">-1</tspan><tspan dy="5.8">)</tspan></text>
<text x="392" y="579.5" font-size="11.2" font-weight="bold" fill="#111" stroke="#111" stroke-width="0.3">P/P</text>
<circle cx="411.6" cy="571.4" r="1.45" fill="none" stroke="#111" stroke-width="0.95"/>
<rect x="248.6" y="305.2" width="205.9" height="151.3" fill="#fff" stroke="#6a6a6a" stroke-width="1"/>
<line x1="261.5" y1="456.5" x2="261.5" y2="459.5" stroke="#6a6a6a" stroke-width="1"/>
<line x1="287.22" y1="456.5" x2="287.22" y2="459.5" stroke="#6a6a6a" stroke-width="1"/>
<line x1="312.94" y1="456.5" x2="312.94" y2="459.5" stroke="#6a6a6a" stroke-width="1"/>
<line x1="338.66" y1="456.5" x2="338.66" y2="459.5" stroke="#6a6a6a" stroke-width="1"/>
<line x1="364.38" y1="456.5" x2="364.38" y2="459.5" stroke="#6a6a6a" stroke-width="1"/>
<line x1="390.1" y1="456.5" x2="390.1" y2="459.5" stroke="#6a6a6a" stroke-width="1"/>
<line x1="415.82" y1="456.5" x2="415.82" y2="459.5" stroke="#6a6a6a" stroke-width="1"/>
<line x1="441.54" y1="456.5" x2="441.54" y2="459.5" stroke="#6a6a6a" stroke-width="1"/>
<line x1="248.64" y1="456.5" x2="248.64" y2="458.1" stroke="#6a6a6a" stroke-width="1"/>
<line x1="274.36" y1="456.5" x2="274.36" y2="458.1" stroke="#6a6a6a" stroke-width="1"/>
<line x1="300.08" y1="456.5" x2="300.08" y2="458.1" stroke="#6a6a6a" stroke-width="1"/>
<line x1="325.8" y1="456.5" x2="325.8" y2="458.1" stroke="#6a6a6a" stroke-width="1"/>
<line x1="351.52" y1="456.5" x2="351.52" y2="458.1" stroke="#6a6a6a" stroke-width="1"/>
<line x1="377.24" y1="456.5" x2="377.24" y2="458.1" stroke="#6a6a6a" stroke-width="1"/>
<line x1="402.96" y1="456.5" x2="402.96" y2="458.1" stroke="#6a6a6a" stroke-width="1"/>
<line x1="428.68" y1="456.5" x2="428.68" y2="458.1" stroke="#6a6a6a" stroke-width="1"/>
<line x1="454.4" y1="456.5" x2="454.4" y2="458.1" stroke="#6a6a6a" stroke-width="1"/>
<text transform="translate(261.5 466) scale(0.1000 0.1000)" font-size="66" text-anchor="middle" font-weight="bold" fill="#111" stroke="#111" stroke-width="3">2</text>
<text transform="translate(287.22 466) scale(0.1000 0.1000)" font-size="66" text-anchor="middle" font-weight="bold" fill="#111" stroke="#111" stroke-width="3">3</text>
<text transform="translate(312.94 466) scale(0.1000 0.1000)" font-size="66" text-anchor="middle" font-weight="bold" fill="#111" stroke="#111" stroke-width="3">4</text>
<text transform="translate(338.66 466) scale(0.1000 0.1000)" font-size="66" text-anchor="middle" font-weight="bold" fill="#111" stroke="#111" stroke-width="3">5</text>
<text transform="translate(364.38 466) scale(0.1000 0.1000)" font-size="66" text-anchor="middle" font-weight="bold" fill="#111" stroke="#111" stroke-width="3">6</text>
<text transform="translate(390.1 466) scale(0.1000 0.1000)" font-size="66" text-anchor="middle" font-weight="bold" fill="#111" stroke="#111" stroke-width="3">7</text>
<text transform="translate(415.82 466) scale(0.1000 0.1000)" font-size="66" text-anchor="middle" font-weight="bold" fill="#111" stroke="#111" stroke-width="3">8</text>
<text transform="translate(441.54 466) scale(0.1000 0.1000)" font-size="66" text-anchor="middle" font-weight="bold" fill="#111" stroke="#111" stroke-width="3">9</text>
<polyline points="257.1,427.3 261.6,422.4 266.2,418.2 270.4,416.1 273.4,418.2 279.5,412.7 287.7,402.7 294.6,392.2 304,378.8 314,354.6 329.4,317.1 344.6,338.6 354.2,377 360.9,405.5 376,431.2 393.6,436.3 410.5,439.1 431.1,439.7 444.4,439.7" fill="none" stroke="#34509f" stroke-width="1.1" stroke-linejoin="round"/>
<path d="M255.6 425.8h3v3h-3zM260.1 420.9h3v3h-3zM264.7 416.7h3v3h-3zM268.9 414.6h3v3h-3zM271.9 416.7h3v3h-3zM278 411.2h3v3h-3zM286.2 401.2h3v3h-3zM293.1 390.7h3v3h-3zM302.5 377.3h3v3h-3zM312.5 353.1h3v3h-3zM327.9 315.6h3v3h-3zM343.1 337.1h3v3h-3zM352.7 375.5h3v3h-3zM359.4 404h3v3h-3zM374.5 429.7h3v3h-3zM392.1 434.8h3v3h-3zM409 437.6h3v3h-3zM429.6 438.2h3v3h-3zM442.9 438.2h3v3h-3z" fill="#34509f"/>
<text transform="translate(245.8 374.2) rotate(-90) scale(0.1)" font-size="72" font-weight="bold" fill="#111" stroke="#111" stroke-width="2" text-anchor="middle" textLength="197" lengthAdjust="spacingAndGlyphs">dV/dD</text>
<text transform="translate(352.1 473) scale(0.1)" font-size="68" font-weight="bold" fill="#111" stroke="#111" stroke-width="2.2" text-anchor="middle" textLength="627" lengthAdjust="spacingAndGlyphs">Pore diameter (nm)</text>
</svg>
</body></html>
